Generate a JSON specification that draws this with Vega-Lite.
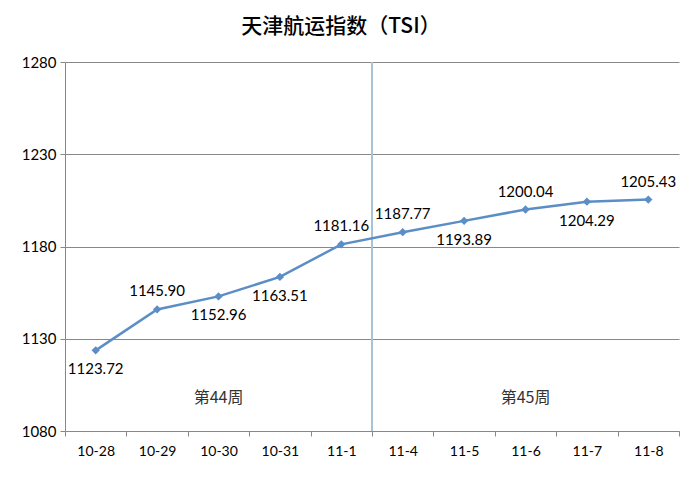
{
  "$schema": "https://vega.github.io/schema/vega-lite/v6.json",
  "width": 614,
  "height": 369,
  "autosize": {"type": "none"},
  "padding": {"left": 65, "top": 62, "right": 15, "bottom": 46},
  "background": "white",
  "title": {"text": "天津航运指数（TSI）", "font": "Noto Sans CJK SC", "fontSize": 21, "fontWeight": 500, "color": "#000000", "anchor": "middle", "dx": -31, "offset": 18},
  "config": {"view": {"stroke": null}},
  "datasets": {
    "tsi": [
      {"date": "10-28", "value": 1123.72},
      {"date": "10-29", "value": 1145.90},
      {"date": "10-30", "value": 1152.96},
      {"date": "10-31", "value": 1163.51},
      {"date": "11-1", "value": 1181.16},
      {"date": "11-4", "value": 1187.77},
      {"date": "11-5", "value": 1193.89},
      {"date": "11-6", "value": 1200.04},
      {"date": "11-7", "value": 1204.29},
      {"date": "11-8", "value": 1205.43}
    ],
    "notes": [
      {"date": "10-30", "value": 1098, "label": "第44周"},
      {"date": "11-6", "value": 1098, "label": "第45周"}
    ],
    "divider": [{"date": "11-1"}]
  },
  "encoding": {
    "x": {
      "field": "date", "type": "nominal", "sort": null,
      "scale": {"type": "band", "paddingInner": 0, "paddingOuter": 0, "domain": ["10-28","10-29","10-30","10-31","11-1","11-4","11-5","11-6","11-7","11-8"]},
      "axis": {"title": null, "labelAngle": 0, "tickBand": "extent", "labelFont": "Lato", "labelFontSize": 14, "labelColor": "#000000", "domainColor": "#888888", "tickColor": "#888888", "tickSize": 5, "labelPadding": 8, "grid": false}
    }
  },
  "layer": [
    {
      "data": {"name": "divider"},
      "mark": {"type": "rule", "color": "#a9c3d6", "strokeWidth": 2},
      "encoding": {"x": {"field": "date", "type": "nominal", "bandPosition": 1}}
    },
    {
      "data": {"name": "tsi"},
      "mark": {"type": "line", "color": "#5b8ec6", "strokeWidth": 2.5, "point": {"shape": "diamond", "size": 70, "filled": true, "color": "#5b8ec6"}},
      "encoding": {
        "y": {
          "field": "value", "type": "quantitative",
          "scale": {"domain": [1080, 1280], "nice": false, "zero": false},
          "axis": {"title": null, "values": [1080, 1130, 1180, 1230, 1280], "format": "d", "grid": true, "gridColor": "#888888", "domainColor": "#888888", "tickColor": "#888888", "tickSize": 5, "labelFont": "Lato", "labelFontSize": 15, "labelColor": "#000000", "labelPadding": 4}
        }
      }
    },
    {
      "data": {"name": "tsi"},
      "transform": [{"filter": {"field": "date", "oneOf": ["10-29", "11-1", "11-4", "11-6", "11-8"]}}],
      "mark": {"type": "text", "font": "Lato", "fontSize": 15, "color": "#000000", "dy": -18},
      "encoding": {
        "y": {"field": "value", "type": "quantitative"},
        "text": {"field": "value", "type": "quantitative", "format": ".2f"}
      }
    },
    {
      "data": {"name": "tsi"},
      "transform": [{"filter": {"not": {"field": "date", "oneOf": ["10-29", "11-1", "11-4", "11-6", "11-8"]}}}],
      "mark": {"type": "text", "font": "Lato", "fontSize": 15, "color": "#000000", "dy": 19},
      "encoding": {
        "y": {"field": "value", "type": "quantitative"},
        "text": {"field": "value", "type": "quantitative", "format": ".2f"}
      }
    },
    {
      "data": {"name": "notes"},
      "mark": {"type": "text", "font": "Noto Sans CJK SC", "fontSize": 16, "color": "#333333"},
      "encoding": {
        "y": {"field": "value", "type": "quantitative"},
        "text": {"field": "label"}
      }
    }
  ]
}
